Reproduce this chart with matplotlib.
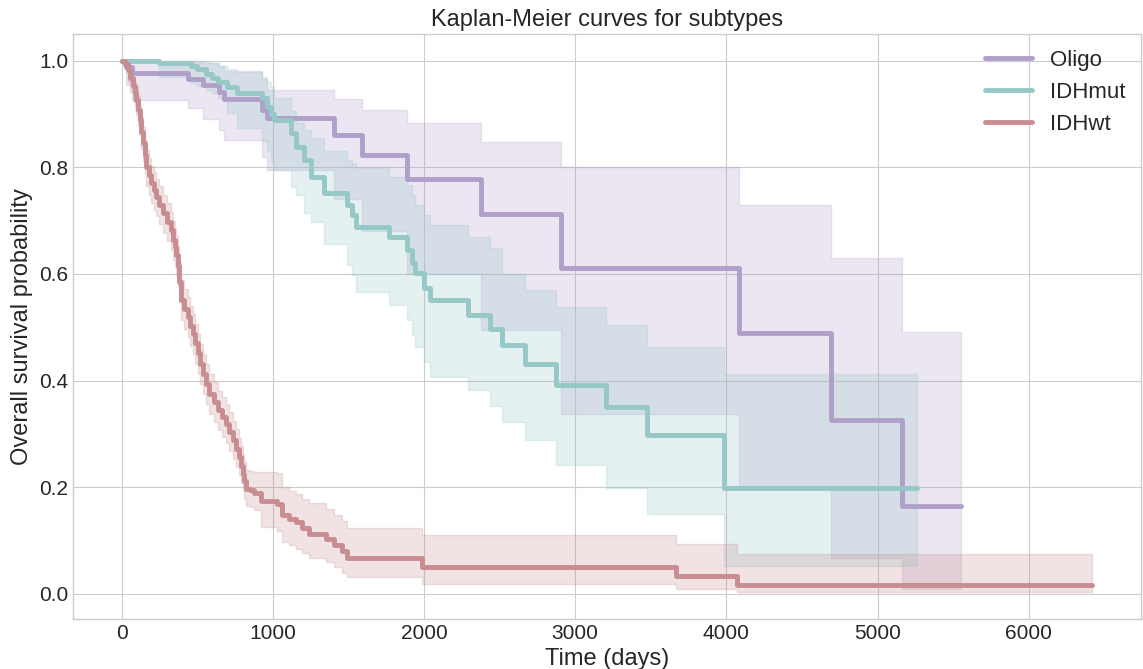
import matplotlib
matplotlib.use("Agg")
import matplotlib.pyplot as plt

plt.style.use("seaborn-v0_8-whitegrid")
plt.rcParams['font.family'] = ['Liberation Sans', 'DejaVu Sans']

# Kaplan-Meier estimates (time in days, survival, 95% CI)
oligo_t = [0, 30, 70, 437, 536, 646, 679, 931, 964, 1404, 1589, 1885, 2380, 2907, 4085, 4695, 5165]
oligo_s = [1.0, .988, .976, .966, .955, .942, .928, .908, .892, .861, .823, .778, .713, .611, .489, .326, .164]
oligo_hi = [1.0, 1.0, 1.0, .998, .995, .99, .98, .965, .945, .929, .908, .883, .848, .80, .729, .63, .492]
oligo_lo = [1.0, .955, .927, .911, .890, .870, .851, .820, .795, .74, .68, .60, .495, .338, .20, .068, .01]
oligo_end = 5553

mut_t = [0, 250, 460, 500, 560, 600, 640, 700, 760, 930, 960, 985, 1010, 1118, 1151, 1206, 1250, 1338,
         1492, 1525, 1547, 1767, 1888, 1921, 1942, 1997, 2041, 2294, 2437, 2513, 2667, 2876, 3206, 3472, 3982]
mut_s = [1.0, .996, .990, .985, .975, .968, .960, .950, .940, .930, .914, .900, .888, .864, .839, .814, .782, .751,
         .729, .711, .689, .670, .645, .620, .601, .573, .551, .523, .497, .466, .432, .391, .350, .298, .198]
mut_hi = [1.0, 1.0, 1.0, 1.0, .998, .995, .99, .985, .978, .97, .96, .95, .93, .905, .883, .87, .855, .83,
          .814, .806, .798, .782, .767, .748, .729, .711, .692, .670, .648, .60, .57, .538, .504, .463, .413]
mut_lo = [1.0, .97, .958, .952, .945, .94, .93, .902, .874, .85, .83, .81, .795, .764, .748, .714, .698, .657,
          .617, .598, .566, .541, .513, .485, .463, .435, .407, .382, .353, .322, .288, .241, .198, .15, .053]
mut_end = 5261

wt_t = [0, 20, 42, 58, 75, 86, 97, 108, 119, 130,
        141, 152, 163, 180, 196, 212, 229, 250, 272, 300,
        327, 338, 350, 360, 371, 382, 393, 415, 437, 454,
        470, 486, 503, 520, 536, 558, 580, 608, 635, 662,
        690, 712, 734, 756, 778, 790, 800, 811, 822, 850,
        877, 921, 1030, 1063, 1107, 1151, 1195, 1239, 1349, 1404,
        1459, 1492, 1986, 3667, 4069]
wt_s = [1.0, .994, .983, .968, .952, .940, .927, .908, .889, .867,
        .845, .823, .801, .785, .770, .757, .745, .730, .714, .698,
        .682, .664, .650, .635, .615, .585, .551, .535, .519, .503,
        .488, .470, .451, .432, .413, .394, .375, .360, .344, .332,
        .319, .304, .288, .272, .256, .240, .225, .211, .197, .194,
        .190, .175, .169, .147, .140, .134, .123, .112, .103, .092,
        .081, .068, .051, .034, .017]
wt_hi = [1.0, 1.0, .993, .982, .970, .960, .950, .933, .915, .895,
         .875, .854, .833, .818, .803, .791, .779, .765, .749, .733,
         .717, .700, .686, .671, .652, .622, .588, .572, .556, .540,
         .525, .507, .488, .469, .450, .431, .412, .397, .381, .369,
         .356, .341, .325, .309, .293, .277, .262, .248, .233, .230,
         .228, .228, .226, .200, .193, .187, .178, .170, .159, .147,
         .136, .124, .110, .093, .075]
wt_lo = [1.0, .985, .960, .942, .925, .912, .898, .878, .858, .835,
         .811, .788, .765, .749, .733, .720, .708, .693, .677, .661,
         .645, .627, .613, .598, .577, .547, .513, .497, .481, .465,
         .450, .432, .413, .394, .375, .356, .338, .323, .307, .295,
         .283, .268, .253, .237, .222, .207, .192, .178, .165, .162,
         .158, .125, .118, .097, .091, .085, .076, .068, .059, .050,
         .040, .032, .018, .009, .003]
wt_end = 6420

groups = [
    ("Oligo", oligo_t, oligo_s, oligo_lo, oligo_hi, oligo_end, "#b09fc8"),
    ("IDHmut", mut_t, mut_s, mut_lo, mut_hi, mut_end, "#95c8c6"),
    ("IDHwt", wt_t, wt_s, wt_lo, wt_hi, wt_end, "#c88d91"),
]

fig, ax = plt.subplots(figsize=(11.43, 6.69), dpi=100)
fig.subplots_adjust(left=0.064, right=0.998, top=0.949, bottom=0.075)

for name, t, s, lo, hi, end, col in groups:
    tt = t + [end]
    ss = s + [s[-1]]
    ax.fill_between(tt, lo + [lo[-1]], hi + [hi[-1]], step="post", color=col, alpha=0.25, linewidth=1)
    ax.plot(tt, ss, drawstyle="steps-post", color=col, lw=3.5, label=name, solid_capstyle="round")

ax.set_title("Kaplan-Meier curves for subtypes", fontsize=17)
ax.set_xlabel("Time (days)", fontsize=17)
ax.set_ylabel("Overall survival probability", fontsize=17)
ax.tick_params(labelsize=15)
ax.set_xticks([0, 1000, 2000, 3000, 4000, 5000, 6000])
ax.legend(loc="upper right", fontsize=16, frameon=False, handlelength=2.1, borderaxespad=0.3)

plt.savefig("out.png")
